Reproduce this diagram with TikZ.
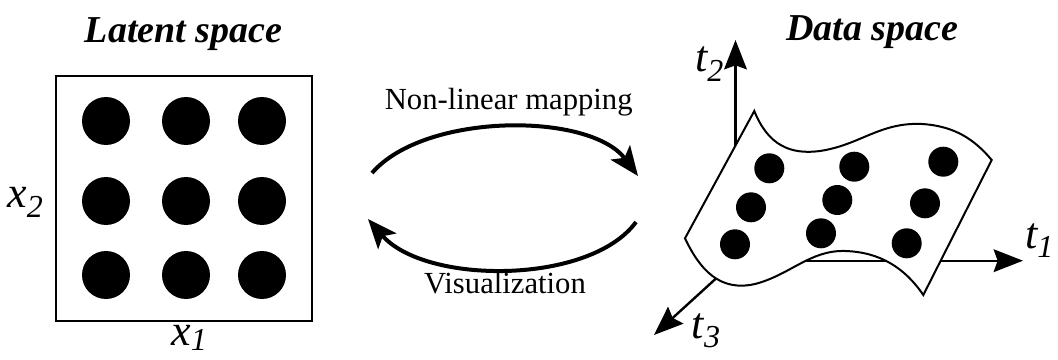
\documentclass[tikz,border=0pt]{standalone}
\usepackage{fontspec}
\setmainfont{Liberation Serif}
\usetikzlibrary{arrows.meta}
\newcommand\mylbl[3][7pt]{{\fontsize{33}{33}\selectfont\itshape #2\raisebox{-#1}{\fontsize{24}{24}\selectfont #3}}}
\begin{document}
\begin{tikzpicture}[x=0.75pt,y=-0.75pt,
  title/.style={inner sep=0pt,anchor=base,font=\fontsize{28.5}{30}\selectfont\bfseries\itshape},
  midtext/.style={inner sep=0pt,anchor=base,font=\fontsize{23}{25}\selectfont},
  axlbl/.style={inner sep=0pt,anchor=base west},
  dot/.style={fill=black},
  axis/.style={line width=1.8pt,-{Stealth[length=22pt,width=17pt,inset=3pt]}},
  maparrow/.style={line width=3pt,-{Stealth[length=22pt,width=18pt,inset=5pt]}},
  surf/.style={draw=black,fill=white,line width=1.5pt,line join=miter}]
\path[use as bounding box] (0,0) rectangle (1058,360);

% ---------- Latent space ----------
\node[title] (tl) at (183.5,42.7) {Latent space};
\draw[line width=2pt] (56,76) rectangle (312,321);
\foreach \x in {106,186,262}
  \foreach \y in {121,201,275}
    \fill[dot] (\x,\y) circle (24);
\node[axlbl] (x2) at (7,208) {\mylbl{x}{2}};
\node[axlbl] (x1) at (171,345) {\mylbl[4pt]{x}{1}};

% ---------- mapping arrows ----------
\coordinate (m1) at (372,173);
\coordinate (m2) at (638,176);
\coordinate (v1) at (636,222);
\coordinate (v2) at (368,219);
\draw[maparrow] (m1) .. controls (425,112) and (590,112) .. (m2);
\draw[maparrow] (v1) .. controls (590,285) and (425,285) .. (v2);
\node[midtext] (nl) at (508.7,110) {Non-linear mapping};
\node[midtext] (vis) at (505,293) {Visualization};

% ---------- Data space ----------
\node[title] (td) at (872.5,40.5) {Data space};
\coordinate (O) at (735.5,260.7);
\coordinate (T1) at (1023,260.7);
\coordinate (T2) at (735.5,40);
\coordinate (T3) at (654,335);
\draw[axis] (O) -- (T1);
\draw[axis] (O) -- (T2);
\draw[axis] (O) -- (T3);
\draw[surf] (754.3,111)
  .. controls (768,145) and (790,155) .. (820,151)
  .. controls (860,145) and (880,122) .. (922,124)
  .. controls (955,126) and (975,140) .. (991.7,160)
  -- (923.3,295)
  .. controls (905,268) and (880,252) .. (845,251)
  .. controls (810,250) and (790,275) .. (755,284)
  .. controls (720,292) and (700,270) .. (685,238.3)
  -- cycle;
\foreach \p in {(769.3,168.3),(854.3,166.7),(943.3,161.7),
                (751,207.3),(837.3,200),(925,203.3),
                (735,244.3),(821,233.3),(906.7,243.3)}
  \fill[dot] \p circle (15);
\node[axlbl] (t2) at (695,71.7) {\mylbl{t}{2}};
\node[axlbl] (t1) at (1025,248) {\mylbl{t}{1}};
\node[axlbl] (t3) at (691.7,338) {\mylbl{t}{3}};
\end{tikzpicture}
\end{document}
